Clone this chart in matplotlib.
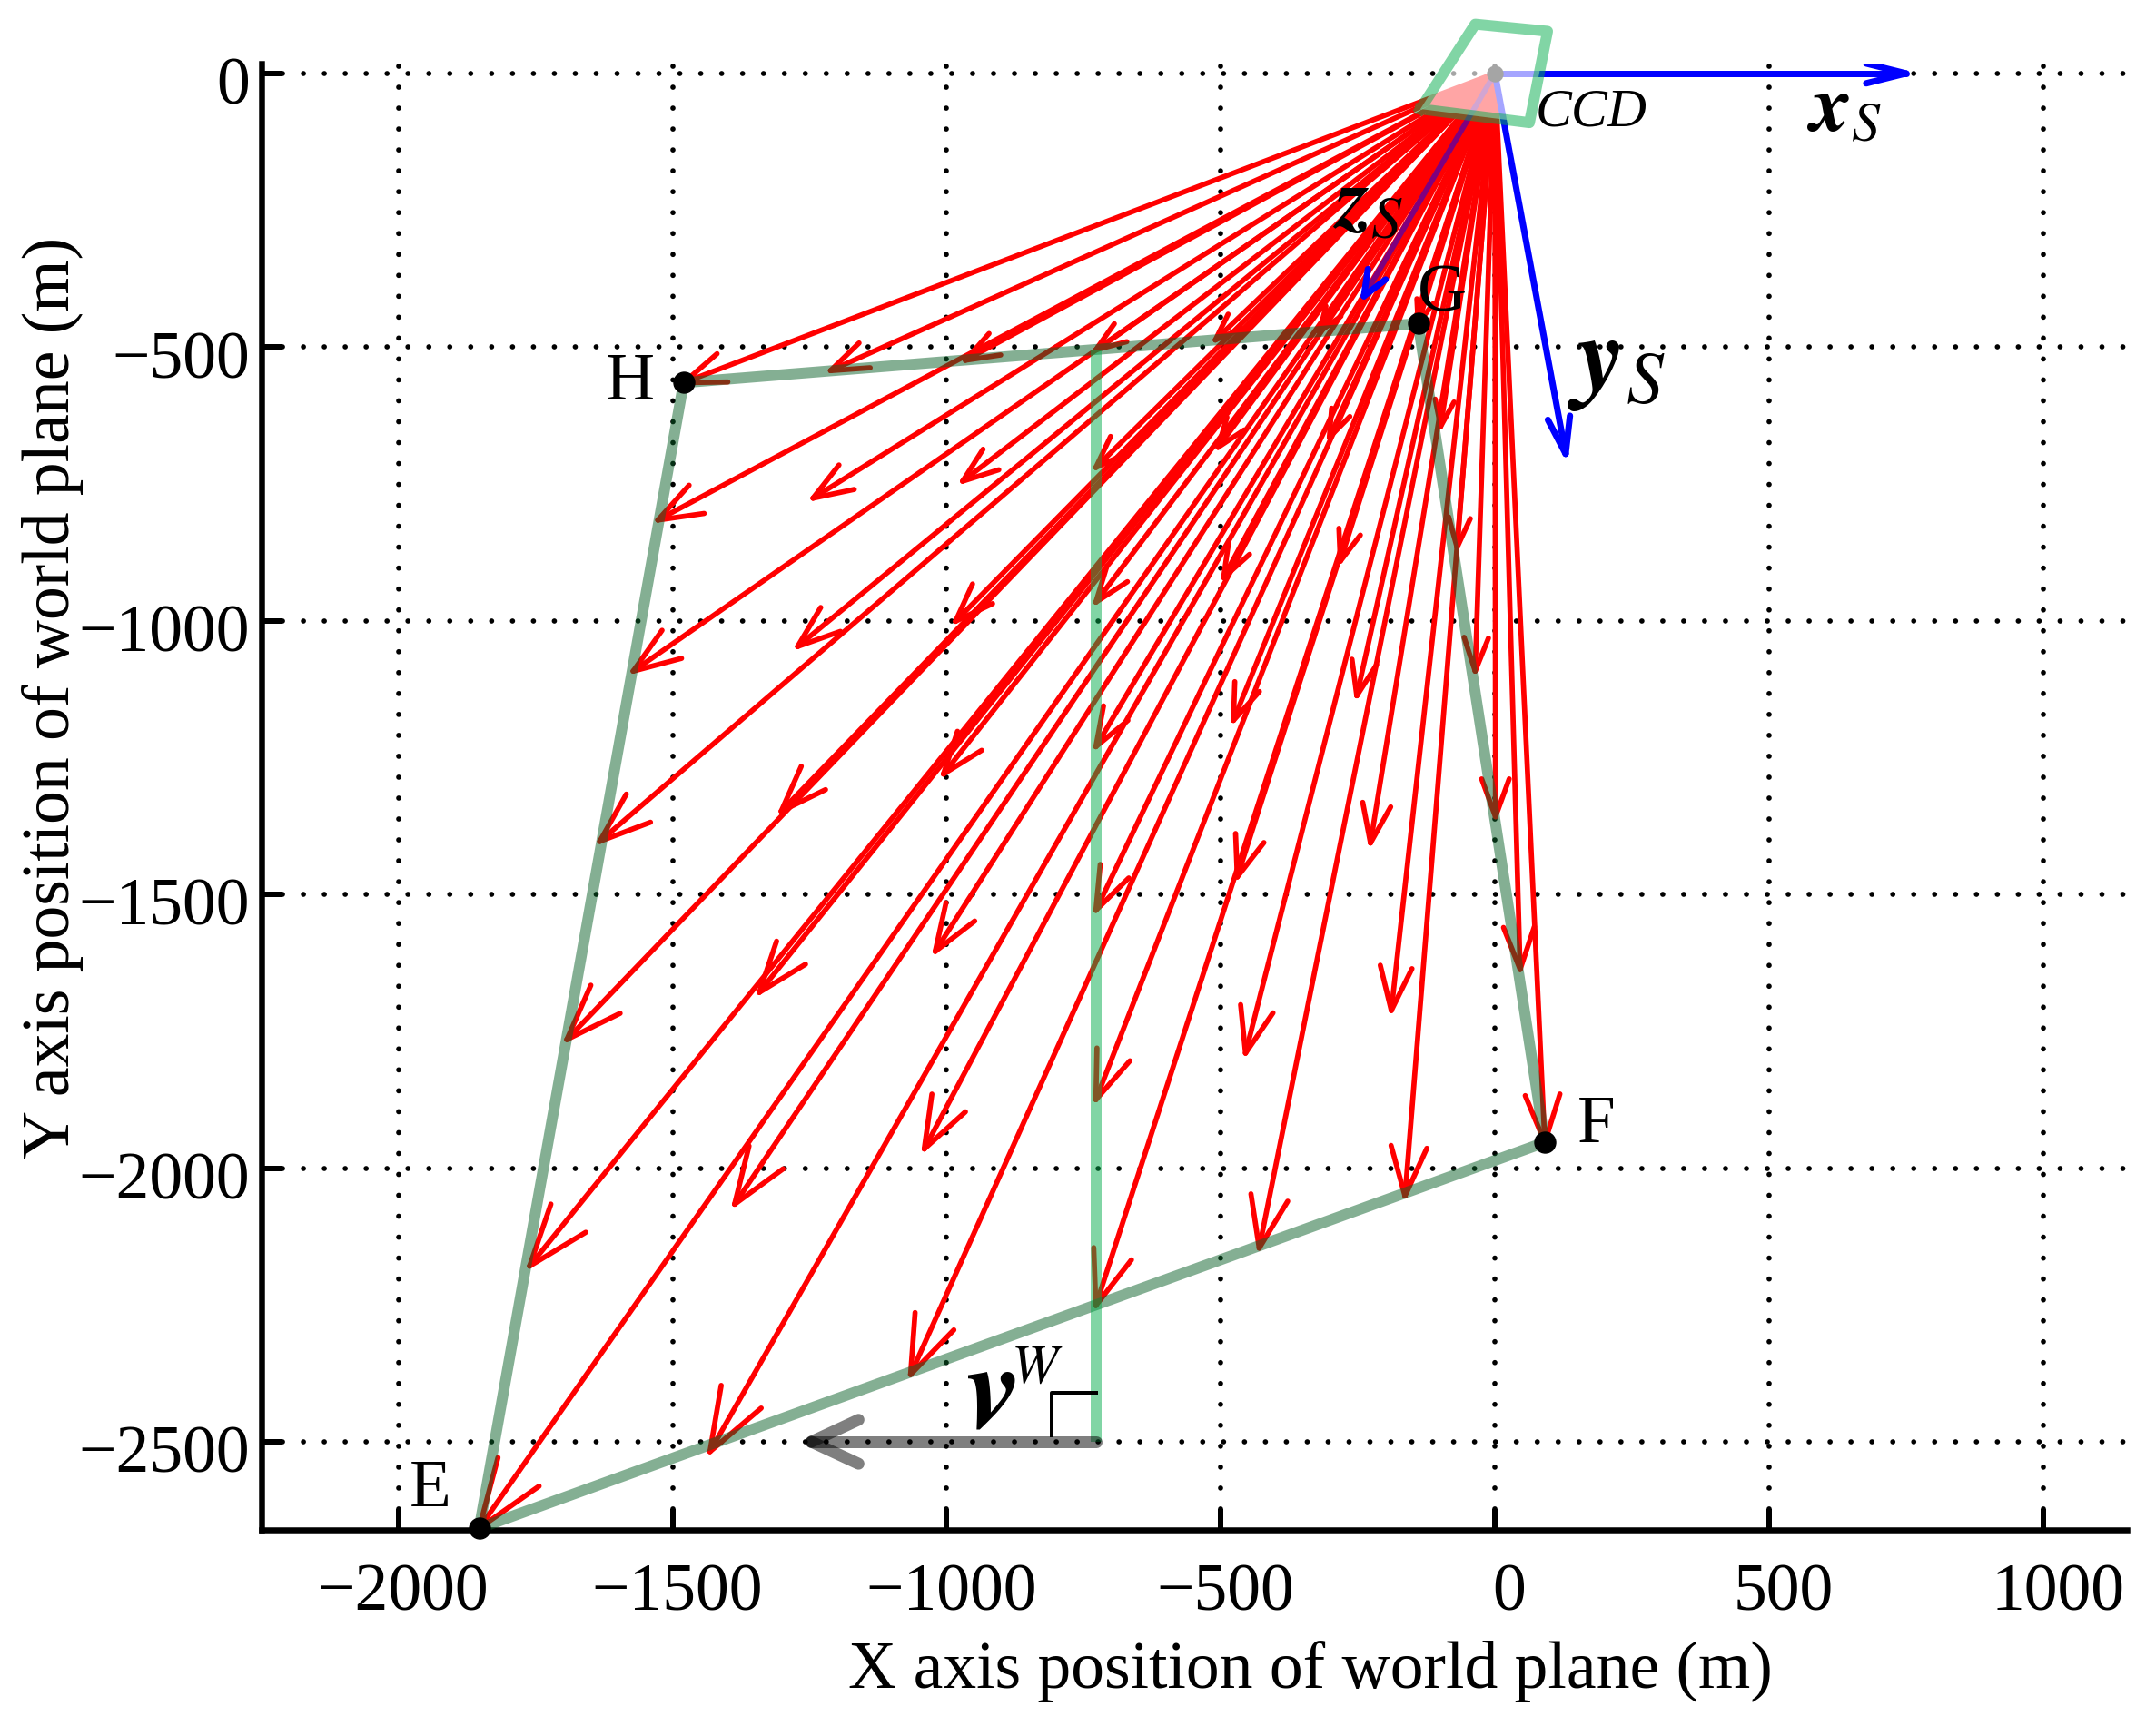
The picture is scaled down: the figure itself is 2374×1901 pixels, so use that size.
import numpy as np
import matplotlib
matplotlib.use("Agg")
import matplotlib.pyplot as plt
from matplotlib.transforms import ScaledTranslation

plt.rcParams['font.family'] = ['Liberation Serif', 'DejaVu Serif']
plt.rcParams['mathtext.fontset'] = 'stix'

# ground points hit by the rays, one row per line of the grid (H..G down to E..F)
tips_x = [[-1480, -1212, -966, -728, -510, -320, -140],
          [-1527, -1244, -971, -728, -505, -302, -99],
          [-1572, -1272, -984, -728, -495, -282, -69],
          [-1633, -1302, -1006, -728, -477, -252, -36],
          [-1693, -1342, -1021, -728, -470, -227, 1],
          [-1761, -1387, -1041, -728, -455, -189, 46],
          [-1853, -1432, -1066, -728, -430, -164, 91]]
tips_y = [[-565, -543, -524, -505, -487, -472, -457],
          [-816, -776, -745, -720, -683, -665, -645],
          [-1092, -1047, -1001, -966, -921, -891, -866],
          [-1403, -1348, -1280, -1230, -1182, -1137, -1092],
          [-1765, -1679, -1604, -1529, -1468, -1406, -1358],
          [-2179, -2066, -1965, -1875, -1790, -1712, -1637],
          [-2658, -2518, -2377, -2251, -2146, -2051, -1953]]

footprint_x = [-1853, 91, -140, -1480, -1853]
footprint_y = [-2658, -1953, -457, -565, -2658]
corner_names = ["E", "F", "G", "H"]
corner_label_x = [-1943, 185, -96, -1578]
corner_label_y = [-2588, -1923, -404, -567]

ccd_x = [-136, -36, 96, 63, -136]
ccd_y = [-65, 90, 77, -90, -65]

track_x = [-728, -728]
track_y = [-505, -2500]
vel_x = [-728, -1247]
vel_y = [-2500, -2500]
corner_mark_x = [-808, -808, -728]
corner_mark_y = [-2489, -2411, -2411]

xs_tip = (750, 0)
ys_tip = (129, -695)
zs_tip = (-239, -407)

xticks = [-2000, -1500, -1000, -500, 0, 500, 1000]
yticks = [0, -500, -1000, -1500, -2000, -2500]

W, H = 2374, 1901
px = 1 / 100 * 72  # points per pixel at dpi 100


def head(ax, tip, tail, length, half_angle, **kw):
    tip = np.array(tip, float)
    d = np.array(tail, float) - tip
    d = d / np.hypot(*d)
    for a in (half_angle, -half_angle):
        a = np.radians(a)
        r = np.array([d[0]*np.cos(a) - d[1]*np.sin(a), d[0]*np.sin(a) + d[1]*np.cos(a)])
        ax.plot([tip[0], tip[0] + length*r[0]], [tip[1], tip[1] + length*r[1]], **kw)


fig = plt.figure(figsize=(W/100, H/100), dpi=100)
ax = fig.add_axes([288/W, 1 - 1685/H, (2342-288)/W, (1685-70)/H])
ax.set_xlim(-2250, 1153)
ax.set_ylim(-2661, 18)
ax.set_xticks(xticks)
ax.set_yticks(yticks)
ax.set_xticklabels([str(v).replace("-", "\u2212") for v in xticks])
ax.set_yticklabels([str(v).replace("-", "\u2212") for v in yticks])
ax.spines['top'].set_visible(False)
ax.spines['right'].set_visible(False)
ax.spines['left'].set_linewidth(6.5*px)
ax.spines['bottom'].set_linewidth(6.5*px)
ax.tick_params(axis='x', direction='in', length=23*px, width=6*px, labelsize=53, pad=37*px)
ax.tick_params(axis='y', direction='in', length=23*px, width=6*px, labelsize=53, pad=13*px)
ax.grid(True, color='black', lw=5.7*px, linestyle=(0, (0.01, 4.03)), dash_capstyle='round', zorder=0)
ax.set_axisbelow(True)

for lab, v in zip(ax.get_xticklabels(), xticks):
    dx = 16 if v >= 0 else 5
    lab.set_transform(lab.get_transform() + ScaledTranslation(dx/100, 0, fig.dpi_scale_trans))
for lab in ax.get_yticklabels():
    lab.set_transform(lab.get_transform() + ScaledTranslation(0, -8/100, fig.dpi_scale_trans))

# rays from the focal point to every ground point
ray = dict(color='red', lw=5.7*px, solid_capstyle='round', zorder=3, clip_on=False)
for row_x, row_y in zip(tips_x, tips_y):
    for x, y in zip(row_x, row_y):
        ax.plot([0, x], [0, y], **ray)
        head(ax, (x, y), (0, 0), 30 + 0.032*np.hypot(x, y), 20, **ray)

# camera axes
blue = dict(color='blue', lw=7*px, solid_capstyle='round', zorder=4)
ax.plot([0, xs_tip[0]], [0, xs_tip[1]], **blue)
head(ax, xs_tip, (0, 0), 75, 14, **blue)
ax.plot([0, ys_tip[0]], [0, ys_tip[1]], **blue)
head(ax, ys_tip, (0, 0), 70, 17, **blue)
ax.plot([0, zs_tip[0]], [0, zs_tip[1]], color='blue', lw=6*px, alpha=0.5, zorder=4)
head(ax, zs_tip, (0, 0), 50, 22, **blue)
ax.plot(0, 0, 'o', color='black', ms=17*px, zorder=4.5, clip_on=False)

# footprint, its centre line and the velocity
ax.plot(footprint_x, footprint_y, color=(0.04, 0.38, 0.16), alpha=0.5, lw=12*px, zorder=5,
        solid_joinstyle='round', clip_on=False)
ax.plot(track_x, track_y, color=(0.02, 0.68, 0.3), alpha=0.5, lw=12*px, zorder=5, solid_capstyle='butt')
gray = dict(color='black', alpha=0.5, lw=13*px, solid_capstyle='round', zorder=6)
ax.plot(vel_x, vel_y, **gray)
head(ax, (vel_x[1], vel_y[1]), (vel_x[0], vel_y[0]), 95, 25, **gray)
ax.plot(corner_mark_x, corner_mark_y, color='black', lw=4*px, zorder=6)

ax.plot(footprint_x[:4], footprint_y[:4], 'o', color='black', ms=23*px, zorder=7, clip_on=False)

# CCD plate, whitish so what lies behind it fades
ax.fill(ccd_x, ccd_y, facecolor='white', alpha=0.65, edgecolor='none', zorder=8, clip_on=False)
ax.plot(ccd_x, ccd_y, color=(0.02, 0.68, 0.3), alpha=0.5, lw=12*px, zorder=9, clip_on=False,
        solid_joinstyle='round')

for name, x, y in zip(corner_names, corner_label_x, corner_label_y):
    ax.text(x, y, name, fontsize=54, ha='center', va='center', zorder=10)
ax.text(176, -73, "CCD", fontsize=43, style='italic', ha='center', va='center', zorder=10)
ax.text(638, -70, r"$\mathbfit{x}_{\mathit{S}}$", fontsize=64, ha='center', va='center', zorder=10)
ax.text(-232, -243, r"$\mathbfit{z}_{\mathit{S}}$", fontsize=68, ha='center', va='center', zorder=10)
ax.text(222, -532, r"$\mathbfit{y}_{\mathit{S}}$", fontsize=84, ha='center', va='center', zorder=10)
ax.text(-920, -2420, r"$\mathbfit{v}$", fontsize=96, ha='center', va='center', zorder=10)
ax.text(-835, -2368, r"$\mathit{W}$", fontsize=44, ha='center', va='center', zorder=10)

fig.text(1443/W, 1 - 1841/H, "X axis position of world plane (m)", fontsize=53, ha='center', va='center')
fig.text(58/W, 1 - 768/H, "Y axis position of world plane (m)", fontsize=53, rotation=90, ha='center', va='center')

fig.savefig("out.png", dpi=100)
